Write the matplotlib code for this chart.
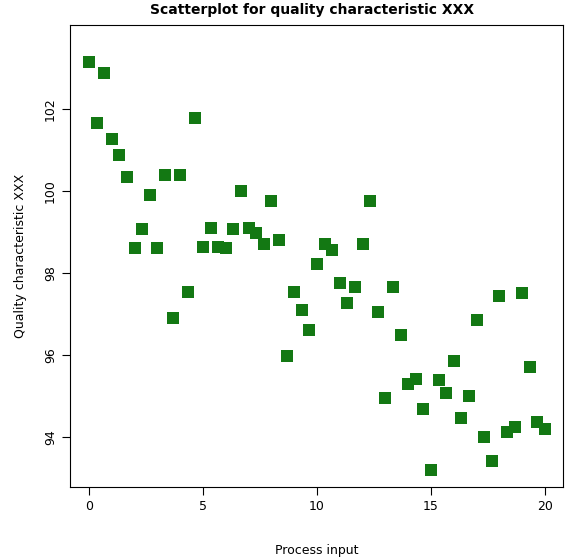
import matplotlib
matplotlib.use("Agg")
import matplotlib.pyplot as plt
import numpy as np

# x runs 0..20 in steps of 1/3
x_vals = [i / 3 for i in range(61)]
y_vals = [
    103.15, 101.66, 102.88, 101.27, 100.88, 100.34, 98.61, 99.07, 99.90, 98.61,
    100.39, 96.90, 100.39, 97.54, 101.78, 98.63, 99.10, 98.63, 98.61, 99.07,
    100.0, 99.10, 98.98, 98.71, 99.76, 98.80, 95.98, 97.54, 97.10, 96.61,
    98.22, 98.71, 98.56, 97.76, 97.27, 97.66, 98.71, 99.76, 97.05, 94.95,
    97.66, 96.49, 95.29, 95.41, 94.68, 93.20, 95.39, 95.07, 95.85, 94.46,
    95.00, 96.85, 94.00, 93.41, 97.44, 94.12, 94.24, 97.51, 95.71, 94.37,
    94.20,
]
x_ticks = [0, 5, 10, 15, 20]
y_ticks = [94, 96, 98, 100, 102]

fig = plt.figure(figsize=(5.68, 5.60), dpi=100)
ax = fig.add_axes([70 / 568, 1 - 487 / 560, 493 / 568, 462 / 560])
ax.scatter(x_vals, y_vals, marker="s", s=75, color="#137813", linewidths=0)
ax.set_xlim(-0.83, 20.79)
ax.set_ylim(92.78, 104.05)
ax.set_xticks(x_ticks)
ax.set_yticks(y_ticks)
ax.set_yticklabels([str(t) for t in y_ticks], rotation=90, va="center")
ax.tick_params(labelsize=9, length=6)
ax.set_xlabel("Process input", fontsize=9, labelpad=22)
ax.set_ylabel("Quality characteristic XXX", fontsize=9, labelpad=12)
fig.text(0.55, 0.995, "Scatterplot for quality characteristic XXX",
         ha="center", va="top", fontsize=10, fontweight="bold")

fig.savefig("out.png", dpi=100)
